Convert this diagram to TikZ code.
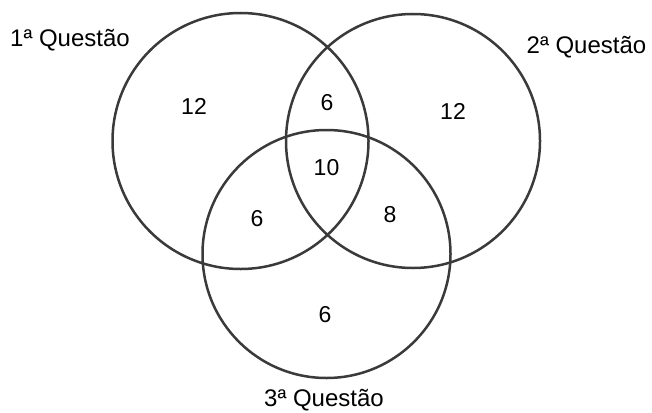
\documentclass[tikz,border=0pt]{standalone}
\usepackage{fontspec}
\setmainfont{Liberation Sans}
\begin{document}
\begin{tikzpicture}[x=1pt,y=-1pt,
  setc/.style={circle,draw=ringc,line width=2.5pt,inner sep=0pt},
  num/.style={inner sep=0pt,font=\fontsize{23}{27}\selectfont},
  lab/.style={inner sep=0pt,anchor=base,font=\fontsize{24}{28}\selectfont}]
\definecolor{ringc}{HTML}{3A3A3A}
\useasboundingbox (0,0) rectangle (652,412);
\node[setc,minimum size=256pt] (c1) at (240.5,141) {};
\node[setc,minimum size=254pt] (c2) at (413,141) {};
\node[setc,minimum size=248pt] (c3) at (326.5,254) {};
\node[lab] (l1) at (70,46.7) {1ª Questão};
\node[lab] (l2) at (586.5,53.3) {2ª Questão};
\node[lab] (l3) at (324,406.5) {3ª Questão};
\node[num] (a) at (194,106.5) {12};
\node[num] (ab) at (327,103) {6};
\node[num] (b) at (453,111) {12};
\node[num] (abc) at (326.5,167.5) {10};
\node[num] (ac) at (257,218.5) {6};
\node[num] (bc) at (390,215) {8};
\node[num] (c) at (325,314.5) {6};
\end{tikzpicture}
\end{document}
